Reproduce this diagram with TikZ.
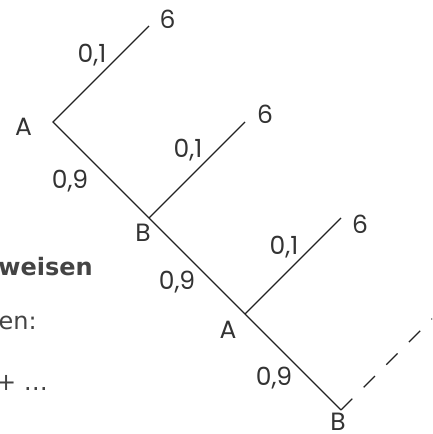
\documentclass[tikz,border=0pt]{standalone}
\usepackage{fontspec}
\setmainfont{Poppins}
\newfontfamily\leftfont{DejaVu Sans}
\definecolor{linec}{HTML}{222222}
\definecolor{labc}{HTML}{333333}
\definecolor{txtc}{HTML}{444444}
\tikzset{
  edge/.style={draw=linec,line width=1.1pt},
  dashedge/.style={draw=linec,line width=1.1pt,dash pattern=on 16pt off 16pt},
  lab/.style={text=labc,font=\fontsize{25}{28}\selectfont,inner sep=0pt},
  lefttxt/.style={text=txtc,font=\leftfont\fontsize{24}{28}\selectfont,inner sep=0pt,anchor=base east}
}
\begin{document}
\begin{tikzpicture}[x=1pt,y=1pt]
\useasboundingbox (0,0) rectangle (432,434);
\clip (0,0) rectangle (432,434);
% vertices
\coordinate (A1) at (53,312);
\coordinate (T1) at (149,408);
\coordinate (B1) at (149,216);
\coordinate (T2) at (245,312);
\coordinate (A2) at (245,120);
\coordinate (T3) at (341,216);
\coordinate (B2) at (341,24);
\coordinate (D) at (445,128);
% edges
\draw[edge] (T1) -- (A1) -- (B1) -- (A2) -- (B2);
\draw[edge] (B1) -- (T2);
\draw[edge] (A2) -- (T3);
\draw[dashedge] (B2) -- (D);
% labels
\node[lab] (s1) at (167.5,415) {6};
\node[lab] (s2) at (265,320) {6};
\node[lab] (s3) at (360,210) {6};
\node[lab] (p1) at (92,379) {0,1};
\node[lab] (p2) at (188,284) {0,1};
\node[lab] (p3) at (284,187) {0,1};
\node[lab] (q1) at (70,253) {0,9};
\node[lab] (q2) at (177,152) {0,9};
\node[lab] (q3) at (274,56) {0,9};
\node[lab] (a1) at (23.5,307) {A};
\node[lab] (a2) at (228,104) {A};
\node[lab] (b1) at (143,201) {B};
\node[lab] (b2) at (338,12) {B};
% left text
\node[lefttxt] (w) at (93,158) {\bfseries weisen};
\node[lefttxt] (e) at (37,104) {en:};
\node[lefttxt] (d) at (48,43) {+ …};
\end{tikzpicture}
\end{document}
